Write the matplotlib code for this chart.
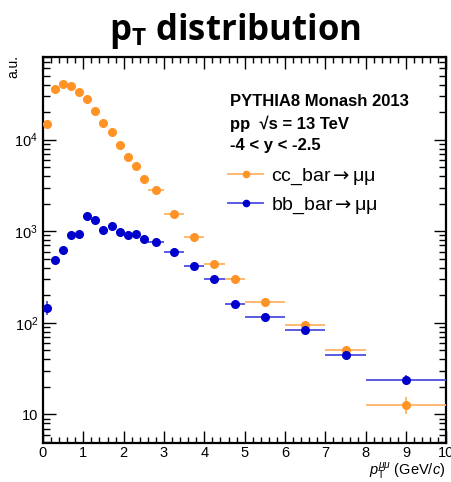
import matplotlib
matplotlib.use("Agg")
import matplotlib.pyplot as plt
import numpy as np
from matplotlib.lines import Line2D
from matplotlib.ticker import MultipleLocator, FuncFormatter, LogLocator, NullFormatter

plt.rcParams['font.family'] = ['Liberation Sans', 'DejaVu Sans']
plt.rcParams['mathtext.fontset'] = 'custom'
plt.rcParams['mathtext.rm'] = 'Liberation Sans'
plt.rcParams['mathtext.it'] = 'Liberation Sans:italic'
plt.rcParams['mathtext.bf'] = 'Open Sans:bold'
plt.rcParams['mathtext.sf'] = 'DejaVu Sans'

# bins (GeV/c)
bin_lo = [0.0, 0.2, 0.4, 0.6, 0.8, 1.0, 1.2, 1.4, 1.6, 1.8, 2.0, 2.2, 2.4,
          2.6, 3.0, 3.5, 4.0, 4.5, 5.0, 6.0, 7.0, 8.0]
bin_hi = [0.2, 0.4, 0.6, 0.8, 1.0, 1.2, 1.4, 1.6, 1.8, 2.0, 2.2, 2.4, 2.6,
          3.0, 3.5, 4.0, 4.5, 5.0, 6.0, 7.0, 8.0, 10.0]

cc_vals = [14900, 36100, 40900, 38600, 33300, 27700, 20500, 15400, 12200, 8750,
           6530, 5170, 3700, 2790, 1540, 855, 441, 303, 167, 94, 50, 12.7]
cc_errs = [300, 500, 500, 500, 450, 400, 350, 300, 260, 220,
           190, 170, 140, 90, 60, 40, 25, 18, 10, 6, 3.5, 2.6]

bb_vals = [146, 483, 617, 904, 936, 1472, 1318, 1044, 1134, 975,
           904, 944, 832, 759, 590, 420, 301, 159, 115, 82.6, 44.8, 23.7]
bb_errs = [25, 40, 45, 50, 50, 60, 55, 50, 50, 45,
           45, 45, 40, 30, 25, 20, 16, 13, 8, 7, 4.5, 3.0]

labels = [r'cc_bar$\mathsf{\rightarrow}$μμ', r'bb_bar$\mathsf{\rightarrow}$μμ']
info_lines = ['PYTHIA8 Monash 2013', 'pp  √s = 13 TeV', '-4 < y < -2.5']

lo = np.array(bin_lo); hi = np.array(bin_hi)
x = (lo + hi) / 2
xerr = (hi - lo) / 2

c_orange = '#FF9326'
c_orange_l = '#FFB466'
c_blue = '#0000CC'
c_blue_l = '#4D4DE0'

fig = plt.figure(figsize=(4.52, 4.82), dpi=100)
ax = fig.add_axes([0.0951, 0.0809, 0.8925, 0.8008])

ax.errorbar(x, cc_vals, yerr=cc_errs, xerr=xerr, fmt='o', color=c_orange,
            ecolor=c_orange_l, elinewidth=1.3, markersize=5.5, capsize=0, zorder=3)
ax.errorbar(x, bb_vals, yerr=bb_errs, xerr=xerr, fmt='o', color=c_blue,
            ecolor=c_blue_l, elinewidth=1.3, markersize=5.5, capsize=0, zorder=4)

ax.set_yscale('log')
ax.set_xlim(0, 10)
ax.set_ylim(4.86, 8.0e4)

ax.xaxis.set_major_locator(MultipleLocator(1))
ax.xaxis.set_minor_locator(MultipleLocator(0.2))
ax.yaxis.set_major_locator(LogLocator(base=10, numticks=10))
ax.yaxis.set_minor_locator(LogLocator(base=10, subs=np.arange(2, 10), numticks=20))
ax.yaxis.set_minor_formatter(NullFormatter())

def yfmt(v, pos):
    e = int(round(np.log10(v)))
    if e == 1:
        return '10'
    return r'$\mathregular{10^{%d}}$' % e
ax.yaxis.set_major_formatter(FuncFormatter(yfmt))

ax.tick_params(which='both', direction='in', top=True, right=True, labelsize=10.5, width=1.0)
ax.tick_params(axis='x', which='major', length=8.4, pad=2.5)
ax.tick_params(axis='x', which='minor', length=4.3)
ax.tick_params(axis='y', which='major', length=9)
ax.tick_params(axis='y', which='minor', length=4.8)
for s in ax.spines.values():
    s.set_linewidth(1.6)

# axis titles
fig.text(0.985, 0.014, r'$p_{\mathrm{T}}^{\mu\mu}$ (GeV/$c$)', ha='right', va='baseline', fontsize=10.5)
fig.text(0.015, 0.885, 'a.u.', rotation=90, ha='left', va='top', fontsize=10)

# title
fig.text(0.52, 0.935, r'$\mathbf{p}_{\mathbf{T}}$ distribution', ha='center', va='center',
         fontsize=25, fontfamily='Open Sans', fontweight='bold')

# info text
for i, t in enumerate(info_lines):
    ax.text(0.464, 0.886 - i * 0.058, t, transform=ax.transAxes, fontsize=12,
            fontweight='bold', ha='left', va='center')

handles = [Line2D([], [], color=c_orange_l, lw=1.3, marker='o', markersize=4.5,
                  markerfacecolor=c_orange, markeredgecolor=c_orange),
           Line2D([], [], color=c_blue_l, lw=1.3, marker='o', markersize=4.5,
                  markerfacecolor=c_blue, markeredgecolor=c_blue)]
leg = ax.legend(handles, labels, loc='upper left', bbox_to_anchor=(0.44, 0.735),
                frameon=False, fontsize=14, handlelength=1.8, handletextpad=0.4,
                labelspacing=0.4, borderaxespad=0)

fig.savefig('out.png', dpi=100)
